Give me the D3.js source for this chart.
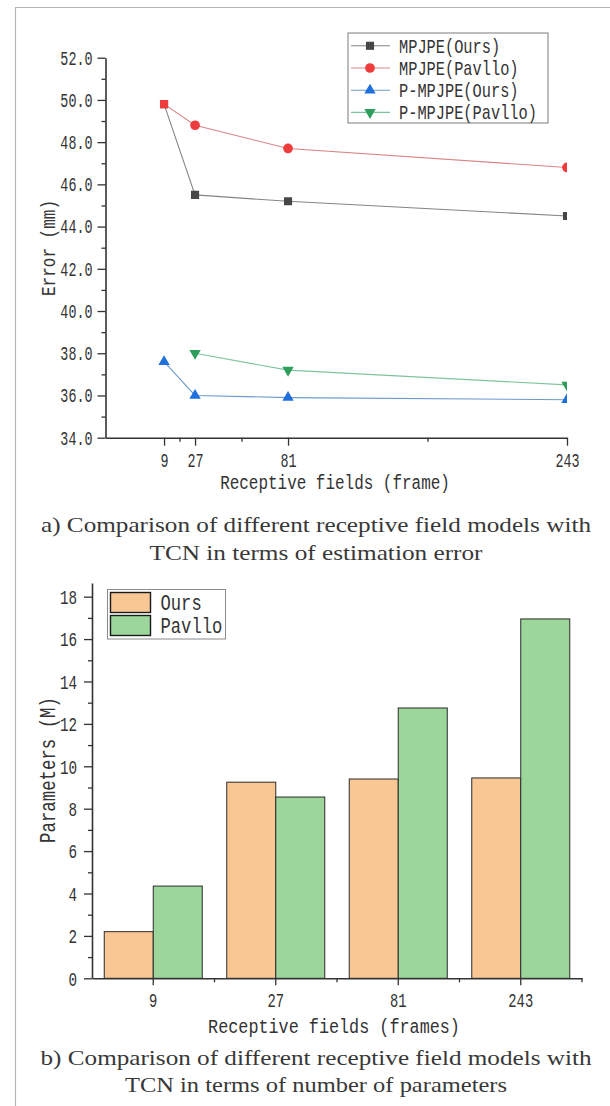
<html>
<head>
    <title>Receptive field comparison</title>
    <script src="https://d3js.org/d3.v7.min.js"></script>
    <style>
        body { margin: 0; background: #fff; }
        svg { display: block; }
    </style>
</head>
<body>
<script>

    // data
    var fields = [9, 27, 81, 243];
    var mpjpeOurs = [49.8, 45.5, 45.2, 44.5];
    var mpjpePavllo = [49.8, 48.8, 47.7, 46.8];
    var pmpjpeOurs = [37.6, 36.0, 35.9, 35.8];
    var pmpjpePavllo = [null, 38.0, 37.2, 36.5];
    var paramsOurs = [2.2, 9.25, 9.4, 9.45];
    var paramsPavllo = [4.35, 8.55, 12.75, 16.95];

    var lineNames = ["MPJPE(Ours)", "MPJPE(Pavllo)", "P-MPJPE(Ours)", "P-MPJPE(Pavllo)"];
    var barNames = ["Ours", "Pavllo"];
    var errorTicks = [34, 36, 38, 40, 42, 44, 46, 48, 50, 52];
    var errorMinor = [35, 37, 39, 41, 43, 45, 47, 49, 51];
    var fieldMinor = [18, 54, 162];
    var paramTicks = [0, 2, 4, 6, 8, 10, 12, 14, 16, 18];
    var paramMinor = [1, 3, 5, 7, 9, 11, 13, 15, 17];

    var width = 610,
        height = 1106;
    var MONO = "'Liberation Mono', monospace";
    var SERIF = "'Liberation Serif', serif";
    var INK = "#333";

    var svg = d3.select("body")
        .append("svg")
        .attr("width", width)
        .attr("height", height);

    // page frame
    svg.append("path")
        .attr("d", "M15.5,1106V7.5H610")
        .attr("fill", "none")
        .attr("stroke", "#b5b5b5")
        .attr("stroke-width", 1.2);

    // narrow tall text, like the original CJK font
    function squeeze(sel, size, sx) {
        sel.attr("font-family", MONO)
            .attr("font-size", size)
            .attr("fill", INK)
            .attr("transform", "scale(" + sx + ",1)")
            .attr("x", function () { return (+d3.select(this).attr("x") || 0) / sx; });
    }

    function label(x, y, str, size, sx, anchor, rot) {
        var g = svg.append("g")
            .attr("transform", "translate(" + x + "," + y + ")" + (rot ? " rotate(" + rot + ")" : ""));
        g.append("text")
            .attr("transform", "scale(" + sx + ",1)")
            .attr("font-family", MONO)
            .attr("font-size", size)
            .attr("fill", INK)
            .attr("text-anchor", anchor || "start")
            .text(str);
        return g;
    }

    function caption(y, str, w) {
        svg.append("text")
            .attr("x", 316)
            .attr("y", y)
            .attr("text-anchor", "middle")
            .attr("font-family", SERIF)
            .attr("font-size", 21)
            .attr("textLength", w)
            .attr("lengthAdjust", "spacingAndGlyphs")
            .attr("fill", "#383838")
            .text(str);
    }

    function styleAxis(g, w) {
        g.select(".domain").attr("stroke", INK).attr("stroke-width", w);
        g.selectAll(".tick line").attr("stroke", INK).attr("stroke-width", 1.3);
    }

    // ---------- a) line chart ----------
    var x1 = d3.scaleLinear().domain([-25, 243]).range([105.5, 567]);
    var y1 = d3.scaleLinear().domain([34, 52]).range([437.7, 57.7]);

    var lineSeries = [
        {name: lineNames[0], values: mpjpeOurs, symbol: d3.symbolSquare, size: 66, fill: "#474747", line: "#858585"},
        {name: lineNames[1], values: mpjpePavllo, symbol: d3.symbolCircle, size: 74, fill: "#ee3b3b", line: "#d98585",
            tieWith: mpjpeOurs, tieSymbol: d3.symbolSquare},
        {name: lineNames[2], values: pmpjpeOurs, symbol: d3.symbolTriangle, size: 56, fill: "#1f6fdc", line: "#6b9bcb"},
        {name: lineNames[3], values: pmpjpePavllo, symbol: d3.symbolTriangle, size: 56, fill: "#2e9e5c", line: "#7cc49e", flip: true}
    ];

    svg.append("clipPath").attr("id", "clipA")
        .append("rect")
        .attr("x", x1.range()[0]).attr("y", 40)
        .attr("width", x1.range()[1] - x1.range()[0]).attr("height", y1.range()[0] - 40);

    var plotA = svg.append("g").attr("clip-path", "url(#clipA)");

    var line = d3.line()
        .defined(function (d) { return d.v != null; })
        .x(function (d) { return x1(d.f); })
        .y(function (d) { return y1(d.v); });

    lineSeries.forEach(function (s) {
        var pts = fields.map(function (f, i) { return {f: f, v: s.values[i], i: i}; });
        plotA.append("path")
            .datum(pts)
            .attr("fill", "none")
            .attr("stroke", s.line)
            .attr("stroke-width", 1.1)
            .attr("d", line);
    });

    lineSeries.forEach(function (s) {
        var pts = fields.map(function (f, i) { return {f: f, v: s.values[i], i: i}; })
            .filter(function (d) { return d.v != null; });
        plotA.selectAll(null)
            .data(pts)
            .enter()
            .append("path")
            .attr("transform", function (d) {
                return "translate(" + x1(d.f) + "," + y1(d.v) + ")" + (s.flip ? " rotate(180)" : "");
            })
            .attr("fill", s.fill)
            .attr("d", function (d) {
                var tie = s.tieWith && s.tieWith[d.i] === d.v;
                return d3.symbol().type(tie ? s.tieSymbol : s.symbol).size(tie ? 66 : s.size)();
            });
    });

    var yAxisA = svg.append("g")
        .attr("transform", "translate(" + x1.range()[0] + ",0)")
        .call(d3.axisLeft(y1).tickValues(errorTicks).tickFormat(d3.format(".1f")).tickSize(8).tickPadding(5).tickSizeOuter(0));
    styleAxis(yAxisA, 1.6);
    yAxisA.selectAll(".tick text").call(squeeze, 20, 0.67);

    var yMinorA = svg.append("g")
        .attr("transform", "translate(" + x1.range()[0] + ",0)")
        .call(d3.axisLeft(y1).tickValues(errorMinor).tickFormat("").tickSize(4));
    yMinorA.select(".domain").remove();
    yMinorA.selectAll(".tick line").attr("stroke", INK).attr("stroke-width", 1.3);

    var xAxisA = svg.append("g")
        .attr("transform", "translate(0," + y1.range()[0] + ")")
        .call(d3.axisBottom(x1).tickValues(fields).tickFormat(d3.format("d")).tickSize(8).tickPadding(7).tickSizeOuter(0));
    styleAxis(xAxisA, 1.6);
    xAxisA.selectAll(".tick text").call(squeeze, 20, 0.67);

    var xMinorA = svg.append("g")
        .attr("transform", "translate(0," + y1.range()[0] + ")")
        .call(d3.axisBottom(x1).tickValues(fieldMinor).tickFormat("").tickSize(4));
    xMinorA.select(".domain").remove();
    xMinorA.selectAll(".tick line").attr("stroke", INK).attr("stroke-width", 1.3);

    label(335, 489, "Receptive fields (frame)", 21, 0.76, "middle");
    label(55, 248, "Error (mm)", 20, 0.8, "middle", -90);

    // legend a
    var legA = svg.append("g").attr("transform", "translate(348,33)");
    legA.append("rect")
        .attr("width", 200).attr("height", 90)
        .attr("fill", "#fff").attr("stroke", "#7a7a7a").attr("stroke-width", 1);
    lineSeries.forEach(function (s, i) {
        var cy = 12.8 + i * 22.2;
        legA.append("line")
            .attr("x1", 3).attr("x2", 42).attr("y1", cy).attr("y2", cy)
            .attr("stroke", s.line).attr("stroke-width", 1.1);
        legA.append("path")
            .attr("transform", "translate(22," + cy + ")" + (s.flip ? " rotate(180)" : ""))
            .attr("fill", s.fill)
            .attr("d", d3.symbol().type(s.symbol).size(s.size)());
        label(348 + 51, 33 + cy + 7, s.name, 21, 0.73, "start");
    });

    caption(532, "a) Comparison of different receptive field models with", 550);
    caption(560, "TCN in terms of estimation error", 333);

    // ---------- b) bar chart ----------
    var x2 = d3.scaleBand().domain(fields).range([92, 582]);
    var xSub = d3.scaleBand().domain(barNames).range([0, x2.bandwidth()]).paddingOuter(0.25);
    var y2 = d3.scaleLinear().domain([0, 18.65]).range([978.3, 582.9]);
    var barColor = {Ours: "#f9c794", Pavllo: "#9dd69b"};
    var barValues = {Ours: paramsOurs, Pavllo: paramsPavllo};

    var groups = svg.append("g")
        .selectAll("g")
        .data(fields)
        .enter()
        .append("g")
        .attr("transform", function (f) { return "translate(" + x2(f) + ",0)"; });

    groups.selectAll("rect")
        .data(function (f, i) { return barNames.map(function (n) { return {name: n, v: barValues[n][i]}; }); })
        .enter()
        .append("rect")
        .attr("x", function (d) { return xSub(d.name); })
        .attr("width", xSub.bandwidth())
        .attr("y", function (d) { return y2(d.v); })
        .attr("height", function (d) { return y2(0) - y2(d.v); })
        .attr("fill", function (d) { return barColor[d.name]; })
        .attr("stroke", "#2b2b2b")
        .attr("stroke-width", 1);

    var yAxisB = svg.append("g")
        .attr("transform", "translate(92,0)")
        .call(d3.axisLeft(y2).tickValues(paramTicks).tickSize(8).tickPadding(7).tickSizeOuter(0));
    styleAxis(yAxisB, 1.6);
    yAxisB.selectAll(".tick text").call(squeeze, 21, 0.68);

    var yMinorB = svg.append("g")
        .attr("transform", "translate(92,0)")
        .call(d3.axisLeft(y2).tickValues(paramMinor).tickFormat("").tickSize(4));
    yMinorB.select(".domain").remove();
    yMinorB.selectAll(".tick line").attr("stroke", INK).attr("stroke-width", 1.3);

    var xAxisB = svg.append("g")
        .attr("transform", "translate(0," + y2(0) + ")")
        .call(d3.axisBottom(x2).tickSize(7).tickPadding(8).tickSizeOuter(0));
    styleAxis(xAxisB, 1.6);
    xAxisB.selectAll(".tick text").call(squeeze, 20, 0.69);

    // minor ticks between the categories and at the end
    xAxisB.selectAll(".minor")
        .data(fields.slice(1).map(function (f) { return x2(f); }).concat([x2.range()[1]]))
        .enter()
        .append("line")
        .attr("x1", function (d) { return d; }).attr("x2", function (d) { return d; })
        .attr("y1", 0).attr("y2", 4)
        .attr("stroke", INK).attr("stroke-width", 1.3);

    label(334, 1033, "Receptive fields (frames)", 21, 0.8, "middle");
    label(55, 770, "Parameters (M)", 22, 0.79, "middle", -90);

    // legend b
    var legB = svg.append("g").attr("transform", "translate(107.5,589.5)");
    legB.append("rect")
        .attr("width", 118).attr("height", 49.5)
        .attr("fill", "#fff").attr("stroke", "#8a8a8a").attr("stroke-width", 1);
    barNames.forEach(function (n, i) {
        legB.append("rect")
            .attr("x", 3).attr("y", 3 + i * 23)
            .attr("width", 40).attr("height", 20)
            .attr("fill", barColor[n]).attr("stroke", "#1a1a1a").attr("stroke-width", 1.4);
        label(107.5 + 53, 589.5 + 20.5 + i * 23, n, 22, 0.78, "start");
    });

    caption(1065, "b) Comparison of different receptive field models with", 551);
    caption(1092, "TCN in terms of number of parameters", 382);

</script>
</body>
</html>
